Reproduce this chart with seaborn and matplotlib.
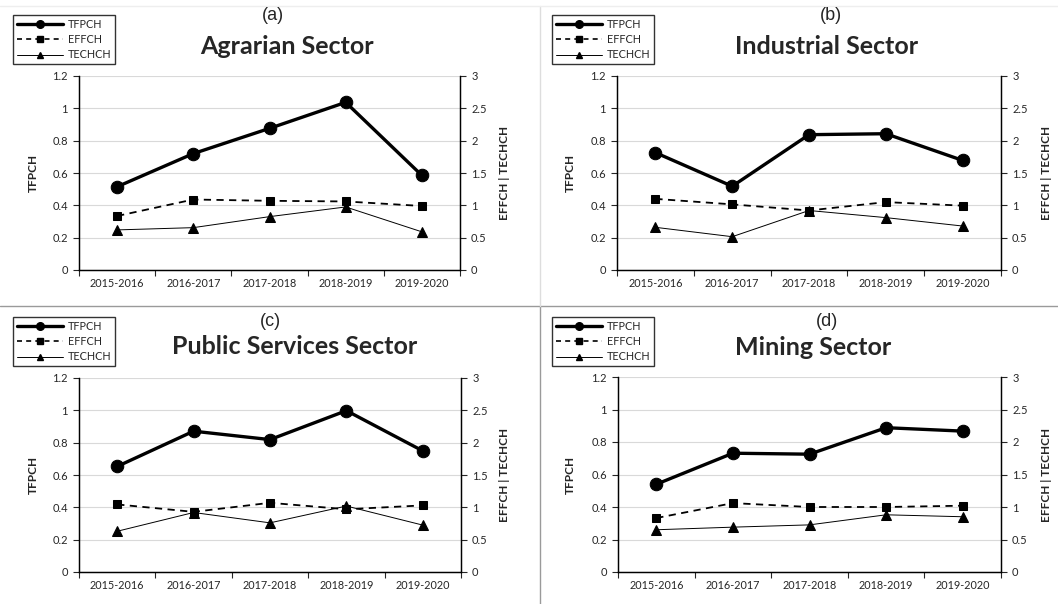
import numpy as np
import pandas as pd
import seaborn as sns
import matplotlib.pyplot as plt
from matplotlib.lines import Line2D

sns.set_style('white')
plt.rcParams['font.family'] = ['Lato', 'DejaVu Sans']

periods = ['2015-2016', '2016-2017', '2017-2018', '2018-2019', '2019-2020']
sectors = ['Agrarian Sector', 'Industrial Sector', 'Public Services Sector', 'Mining Sector']
panel_tags = ['(a)', '(b)', '(c)', '(d)']

# TFPCH on left axis
tfpch_agr = [0.515, 0.72, 0.876, 1.037, 0.585]
tfpch_ind = [0.726, 0.518, 0.837, 0.843, 0.678]
tfpch_pub = [0.653, 0.871, 0.819, 0.998, 0.749]
tfpch_min = [0.54, 0.731, 0.725, 0.888, 0.867]

# EFFCH and TECHCH on right axis
effch_agr = [0.835, 1.09, 1.07, 1.06, 0.99]
effch_ind = [1.10, 1.015, 0.92, 1.05, 0.995]
effch_pub = [1.045, 0.93, 1.07, 0.97, 1.03]
effch_min = [0.83, 1.06, 1.0, 1.0, 1.02]

techch_agr = [0.62, 0.655, 0.825, 0.975, 0.59]
techch_ind = [0.66, 0.515, 0.92, 0.81, 0.68]
techch_pub = [0.63, 0.92, 0.76, 1.02, 0.725]
techch_min = [0.65, 0.69, 0.725, 0.88, 0.85]

tfpch_all = [tfpch_agr, tfpch_ind, tfpch_pub, tfpch_min]
effch_all = [effch_agr, effch_ind, effch_pub, effch_min]
techch_all = [techch_agr, techch_ind, techch_pub, techch_min]

W, H = 1058, 604
fig = plt.figure(figsize=(W / 100, H / 100), dpi=100)

# panel boxes in pixels: left, top, right, bottom
boxes = [(79, 76, 460, 270), (617, 76, 1001, 270),
         (79, 378, 461, 572), (618, 377, 1001, 572)]
tag_pos = [(273, 16), (831, 16), (270, 321), (827, 321)]
title_pos = [(287, 47), (827, 47), (295, 347), (813, 348)]
legend_pos = [(13, 15), (552, 15), (13, 317), (552, 317)]
ylab_x = [33, 570, 33, 570]
y2lab_x = [505, 1046, 505, 1046]

for i in range(4):
    l, t, r, b = boxes[i]
    ax = fig.add_axes([l / W, 1 - b / H, (r - l) / W, (b - t) / H])
    ax2 = ax.twinx()

    df = pd.DataFrame({'period': periods, 'TFPCH': tfpch_all[i],
                       'EFFCH': effch_all[i], 'TECHCH': techch_all[i]})

    sns.lineplot(data=df, x='period', y='TFPCH', ax=ax, color='black', lw=2.4,
                 marker='o', markersize=9, markeredgecolor='black', sort=False)
    sns.lineplot(data=df, x='period', y='EFFCH', ax=ax2, color='black', lw=1.3,
                 linestyle=(0, (4, 3)), marker='s', markersize=5.5,
                 markeredgecolor='black', sort=False)
    sns.lineplot(data=df, x='period', y='TECHCH', ax=ax2, color='black', lw=0.7,
                 marker='^', markersize=6.5, markeredgecolor='black', sort=False)

    ax.set_ylim(0, 1.2)
    ax2.set_ylim(0, 3)
    ax.set_yticks(np.arange(0, 1.21, 0.2))
    ax.set_yticklabels(['0', '0.2', '0.4', '0.6', '0.8', '1', '1.2'])
    ax2.set_yticks(np.arange(0, 3.01, 0.5))
    ax2.set_yticklabels(['0', '0.5', '1', '1.5', '2', '2.5', '3'])
    ax.set_xlim(-0.5, 4.5)
    ax.set_xticks(range(5))
    ax.set_xticklabels(periods)
    ax.set_xticks(np.arange(-0.5, 4.6, 1), minor=True)
    ax.tick_params(axis='x', which='major', length=0, pad=6, labelsize=7.8)
    ax.tick_params(axis='x', which='minor', length=4, width=0.8, direction='out', bottom=True)
    ax.tick_params(axis='y', length=4, width=0.8, direction='out', left=True, labelsize=8, pad=4)
    ax2.tick_params(axis='y', length=4, width=0.8, direction='out', right=True, labelsize=8, pad=4)

    ax.grid(axis='y', color='#d9d9d9', lw=0.8)
    ax.set_axisbelow(True)
    for a in (ax, ax2):
        a.spines['top'].set_visible(False)
        for s in ('left', 'right', 'bottom'):
            a.spines[s].set_color('black')
            a.spines[s].set_linewidth(0.9)
    ax.set_xlabel('')
    ax.set_ylabel('')
    ax2.set_ylabel('')

    cy = 1 - (t + b) / 2 / H
    fig.text(ylab_x[i] / W, cy, 'TFPCH', rotation=90, ha='center', va='center',
             fontsize=8.5, fontweight='bold')
    fig.text(y2lab_x[i] / W, cy, 'EFFCH | TECHCH', rotation=90, ha='center', va='center',
             fontsize=8.5, fontweight='bold')
    fig.text(tag_pos[i][0] / W, 1 - tag_pos[i][1] / H, panel_tags[i], ha='center', va='center',
             fontsize=13, family=['Liberation Sans', 'DejaVu Sans'])
    fig.text(title_pos[i][0] / W, 1 - title_pos[i][1] / H, sectors[i], ha='center', va='center',
             fontsize=18, fontweight='bold')

    handles = [
        Line2D([], [], color='black', lw=2.4, marker='o', markersize=5.5),
        Line2D([], [], color='black', lw=1.2, linestyle=(0, (3, 2.5)), marker='s', markersize=4),
        Line2D([], [], color='black', lw=0.7, marker='^', markersize=5),
    ]
    leg = ax.legend(handles, ['TFPCH', 'EFFCH', 'TECHCH'], loc='upper left',
                    bbox_to_anchor=(legend_pos[i][0] / W, 1 - legend_pos[i][1] / H),
                    bbox_transform=fig.transFigure, fontsize=7.8, frameon=True,
                    fancybox=False, edgecolor='black', handlelength=4.3,
                    handletextpad=0.4, borderpad=0.35, labelspacing=0.4,
                    borderaxespad=0)
    leg.get_frame().set_linewidth(1.0)

# panel separators
fig.add_artist(Line2D([0, 1], [1 - 306 / H, 1 - 306 / H], transform=fig.transFigure,
                      color='#9a9a9a', lw=1))
fig.add_artist(Line2D([540 / W, 540 / W], [0, 1 - 306 / H], transform=fig.transFigure,
                      color='#9a9a9a', lw=1))
fig.add_artist(Line2D([540 / W, 540 / W], [1 - 306 / H, 1 - 6 / H], transform=fig.transFigure,
                      color='#dddddd', lw=1))
fig.add_artist(Line2D([0, 1], [1 - 6 / H, 1 - 6 / H], transform=fig.transFigure,
                      color='#eeeeee', lw=1))

fig.savefig('out.png', dpi=100)
